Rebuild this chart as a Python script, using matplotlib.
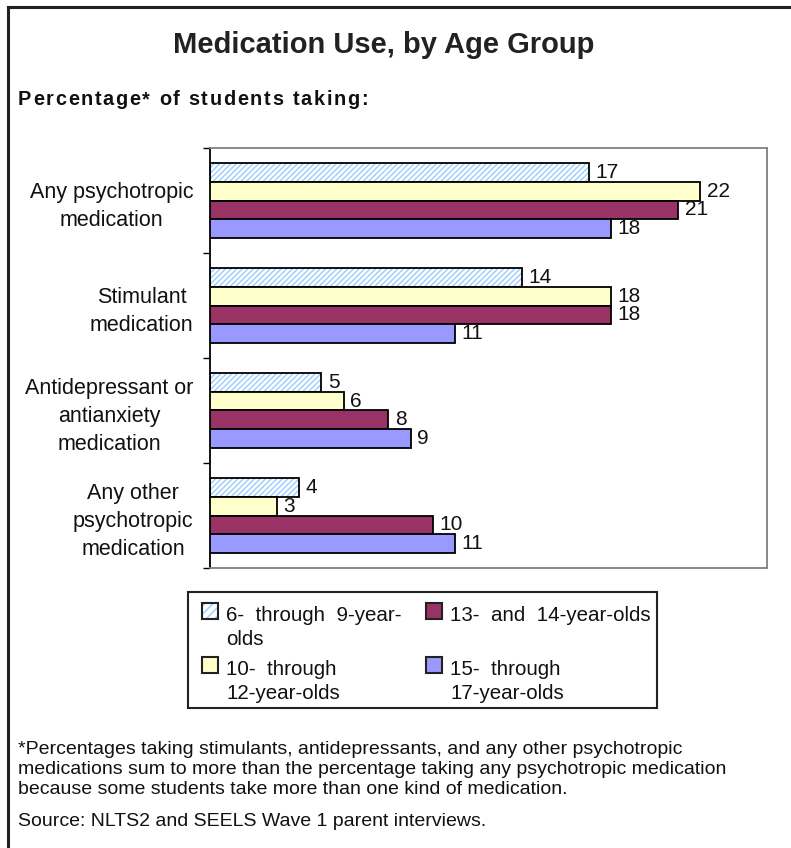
import numpy as np
import matplotlib
matplotlib.use("Agg")
import matplotlib.pyplot as plt
from matplotlib.patches import Rectangle
from matplotlib.lines import Line2D

plt.rcParams['font.family'] = ['Liberation Sans', 'DejaVu Sans']

# data
categories = ["Any psychotropic\nmedication", "Stimulant\nmedication",
              "Antidepressant or\nantianxiety\nmedication",
              "Any other\npsychotropic\nmedication"]
age_6_9 = [17, 14, 5, 4]
age_10_12 = [22, 18, 6, 3]
age_13_14 = [21, 18, 8, 10]
age_15_17 = [18, 11, 9, 11]
series = [age_6_9, age_10_12, age_13_14, age_15_17]
legend_labels = ["6-  through  9-year-\nolds", "10-  through\n12-year-olds",
                 "13-  and  14-year-olds", "15-  through\n17-year-olds"]
colors = ["white", "#FFFFCC", "#993366", "#9999FF"]
hatch_col = "#99CCFF"

W, H = 791, 848
fig = plt.figure(figsize=(W / 100, H / 100), dpi=100)
renderer = fig.canvas.get_renderer()

def fx(px):
    return px / W

def fy(py):
    return 1 - py / H

def text_w(s, **kw):
    t = fig.text(0, 0, s, **kw)
    w = t.get_window_extent(renderer).width
    t.remove()
    return w

def tracked(x0, x1, ybase, s, **kw):
    # spread the letters of s between pixel x0 and x1 (letter spacing)
    w_x = text_w("x", **kw)
    w0 = text_w(s, **kw)
    track = (x1 - x0 - w0) / (len(s) - 1)
    for i, ch in enumerate(s):
        pre = text_w(s[:i] + "x", **kw) - w_x if i else 0
        fig.text(fx(x0 + pre + i * track), fy(ybase), ch, ha="left",
                 va="baseline", **kw)

# outer frame (top + left only)
fig.add_artist(Line2D([fx(8), 1], [fy(7), fy(7)], color="#222222", lw=2.2))
fig.add_artist(Line2D([fx(8), fx(8)], [fy(7), 0], color="#222222", lw=2.2))

fig.text(fx(384), fy(53), "Medication Use, by Age Group", ha="center",
         va="baseline", fontsize=21, fontweight="bold", color="#222222")
tracked(18, 368, 105, "Percentage* of students taking:", fontsize=14.3,
        fontweight="bold", color="#111111")

ax = fig.add_axes([fx(210), fy(568), fx(767) - fx(210), fy(148) - fy(568)])

y = np.arange(len(categories))
h = 0.18
for j, vals in enumerate(series):
    pos = y + (j - 1.5) * h
    if j == 0:
        ax.barh(pos, vals, height=h, color="white", edgecolor=hatch_col,
                hatch="//////", linewidth=0, zorder=2)
        ax.barh(pos, vals, height=h, color="none", edgecolor="black",
                linewidth=1.3, zorder=3)
    else:
        ax.barh(pos, vals, height=h, color=colors[j], edgecolor="black",
                linewidth=1.3, zorder=3)
    for p, v in zip(pos, vals):
        ax.text(v + 0.3, p, str(v), ha="left", va="center", fontsize=15,
                color="#111111", zorder=4)

ax.set_xlim(0, 25)
ax.set_ylim(3.5, -0.5)
ax.set_xticks([])
ax.set_yticks(y)
ax.set_yticklabels(categories, fontsize=15.5, multialignment="center",
                   linespacing=1.45, color="#111111")
ax.tick_params(axis="y", which="major", length=0, pad=12)
ax.set_yticks(np.arange(-0.5, 4, 1), minor=True)
ax.tick_params(axis="y", which="minor", length=5, width=1, color="black")
for s in ["top", "right", "bottom"]:
    ax.spines[s].set_color("#808080")
    ax.spines[s].set_linewidth(1.3)
ax.spines["left"].set_color("black")
ax.spines["left"].set_linewidth(1.3)

# legend drawn by hand
fig.add_artist(Rectangle((fx(188), fy(708)), fx(657) - fx(188), fy(592) - fy(708),
                         transform=fig.transFigure, facecolor="white",
                         edgecolor="#222222", lw=1.5))
entries = [(202, 603), (202, 657), (426, 603), (426, 657)]
for j, (ex, ey) in enumerate(entries):
    box = (fx(ex), fy(ey + 16))
    if j == 0:
        fig.add_artist(Rectangle(box, fx(16), 16 / H, transform=fig.transFigure,
                                 facecolor="white", edgecolor=hatch_col,
                                 hatch="////", lw=0))
        fig.add_artist(Rectangle(box, fx(16), 16 / H, transform=fig.transFigure,
                                 facecolor="none", edgecolor="#222222", lw=1.5))
    else:
        fig.add_artist(Rectangle(box, fx(16), 16 / H, transform=fig.transFigure,
                                 facecolor=colors[j], edgecolor="#222222", lw=1.5))
    fig.text(fx(ex + 24), fy(ey + 3), legend_labels[j], ha="left", va="top",
             fontsize=14.8, linespacing=1.35, color="#111111")

foot = ("*Percentages taking stimulants, antidepressants, and any other psychotropic\n"
        "medications sum to more than the percentage taking any psychotropic medication\n"
        "because some students take more than one kind of medication.")
fig.text(fx(18), fy(741), foot, ha="left", va="top", fontsize=14,
         linespacing=1.25, color="#111111")
fig.text(fx(18), fy(813), "Source: NLTS2 and SEELS Wave 1 parent interviews.",
         ha="left", va="top", fontsize=14, color="#111111")

fig.savefig("out.png", dpi=100)
